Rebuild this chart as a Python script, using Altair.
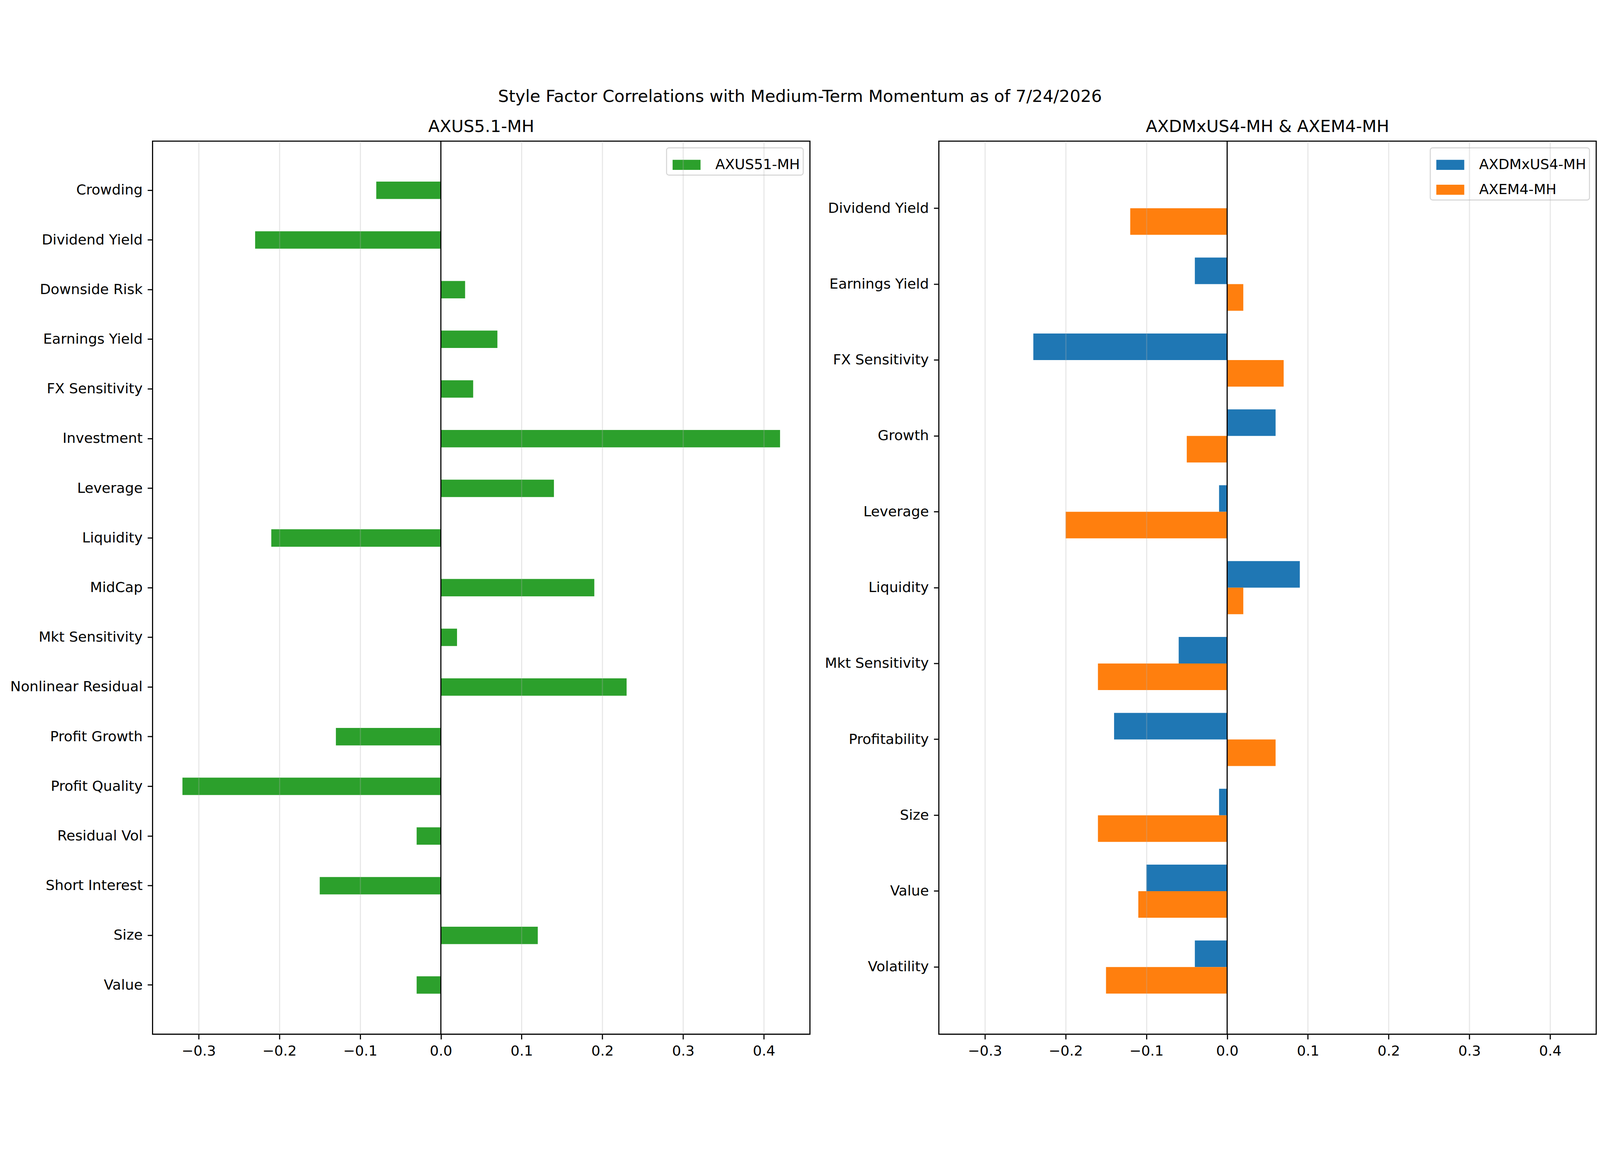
import altair as alt
import pandas as pd

# ---------------- data ----------------
left_factors = ["Crowding", "Dividend Yield", "Downside Risk", "Earnings Yield", "FX Sensitivity",
                "Investment", "Leverage", "Liquidity", "MidCap", "Mkt Sensitivity",
                "Nonlinear Residual", "Profit Growth", "Profit Quality", "Residual Vol",
                "Short Interest", "Size", "Value"]
left_values = [-0.08, -0.23, 0.03, 0.07, 0.04, 0.42, 0.14, -0.21, 0.19, 0.02,
               0.23, -0.13, -0.32, -0.03, -0.15, 0.12, -0.03]
left_series = "AXUS51-MH"

right_factors = ["Dividend Yield", "Earnings Yield", "FX Sensitivity", "Growth", "Leverage",
                 "Liquidity", "Mkt Sensitivity", "Profitability", "Size", "Value", "Volatility"]
dm_values = [0.0, -0.04, -0.24, 0.06, -0.01, 0.09, -0.06, -0.14, -0.01, -0.10, -0.04]
em_values = [-0.12, 0.02, 0.07, -0.05, -0.20, 0.02, -0.16, 0.06, -0.16, -0.11, -0.15]
right_series = ["AXDMxUS4-MH", "AXEM4-MH"]

x_ticks = [-0.3, -0.2, -0.1, 0.0, 0.1, 0.2, 0.3, 0.4]
x_domain = [-0.357, 0.457]

suptitle = "Style Factor Correlations with Medium-Term Momentum as of 7/24/2026"
left_title = "AXUS5.1-MH"
right_title = "AXDMxUS4-MH & AXEM4-MH"

# ---------------- tables ----------------
left_df = pd.DataFrame({"factor": left_factors, "value": left_values, "series": left_series})
right_df = pd.concat([
    pd.DataFrame({"factor": right_factors, "value": dm_values, "series": right_series[0]}),
    pd.DataFrame({"factor": right_factors, "value": em_values, "series": right_series[1]}),
], ignore_index=True)

FONT = "DejaVu Sans"
PW, PH = 1953, 2654
RECT = "M-1,-0.36H1V0.36H-1Z"


def x_enc():
    return alt.X("value:Q",
                 scale=alt.Scale(domain=x_domain, nice=False, zero=False),
                 axis=alt.Axis(title=None, values=x_ticks, grid=True, gridColor="#b0b0b0",
                               gridOpacity={"condition": {"test": "datum.value === 0", "value": 0},
                                            "value": 0.3},
                               gridWidth=3.3, zindex=1,
                               labelExpr="replace(format(datum.value, '.1f'), '-', '\u2212')"))


def legend():
    return alt.Legend(title=None, orient="top-right", offset=20, symbolType=RECT,
                      symbolSize=6889, symbolStrokeWidth=0, symbolOpacity=1, symbolOffset=9,
                      labelFontSize=42, labelFont=FONT, labelColor="black", labelOffset=44,
                      labelLimit=1000, padding=9, fillColor="white", strokeColor="#d6d6d6",
                      cornerRadius=7, rowPadding=11)


def sub_title(t):
    return alt.TitleParams(t, fontSize=50, font=FONT, fontWeight="normal", color="black",
                           offset=15, anchor="middle")


zero_rule = alt.Chart(pd.DataFrame({"z": [0.0]})).mark_rule(color="black", strokeWidth=3.3).encode(
    x=alt.X("z:Q", scale=alt.Scale(domain=x_domain, nice=False, zero=False))
)

left_bars = alt.Chart(left_df).mark_bar().encode(
    x=x_enc(),
    y=alt.Y("factor:N", sort=left_factors,
            scale=alt.Scale(paddingInner=0.65, paddingOuter=0.815),
            axis=alt.Axis(title=None, grid=False, minExtent=442, maxExtent=442, labelLimit=1000)),
    color=alt.Color("series:N", scale=alt.Scale(domain=[left_series], range=["#2ca02c"]),
                    legend=legend()),
)
left = alt.layer(left_bars, zero_rule).properties(width=PW, height=PH, title=sub_title(left_title))

right_bars = alt.Chart(right_df).mark_bar().encode(
    x=x_enc(),
    y=alt.Y("factor:N", sort=right_factors,
            scale=alt.Scale(paddingInner=0.3, paddingOuter=0.535),
            axis=alt.Axis(title=None, grid=False, minExtent=350, maxExtent=350, labelLimit=1000)),
    yOffset=alt.YOffset("series:N", sort=right_series,
                        scale=alt.Scale(paddingInner=0, paddingOuter=0)),
    color=alt.Color("series:N", scale=alt.Scale(domain=right_series, range=["#1f77b4", "#ff7f0e"]),
                    legend=legend()),
)
right = alt.layer(right_bars, zero_rule).properties(width=PW, height=PH, title=sub_title(right_title))

chart = alt.hconcat(left, right, spacing=29).resolve_scale(
    color="independent", y="independent"
).resolve_legend(color="independent").properties(
    title=alt.TitleParams(suptitle, fontSize=50, font=FONT, fontWeight="normal", color="black",
                          anchor="middle", offset=38),
    padding={"left": 0, "top": 20, "right": 0, "bottom": 0},
    background="white",
).configure_view(
    stroke="black", strokeWidth=3.3
).configure_axis(
    labelFont=FONT, labelFontSize=42, labelColor="black", tickColor="black",
    tickWidth=3.3, tickSize=15, labelPadding=15, domain=False
).configure_legend(
    strokeWidth=3
)

chart.save("out.html", embed_options={"renderer": "svg", "actions": False})
